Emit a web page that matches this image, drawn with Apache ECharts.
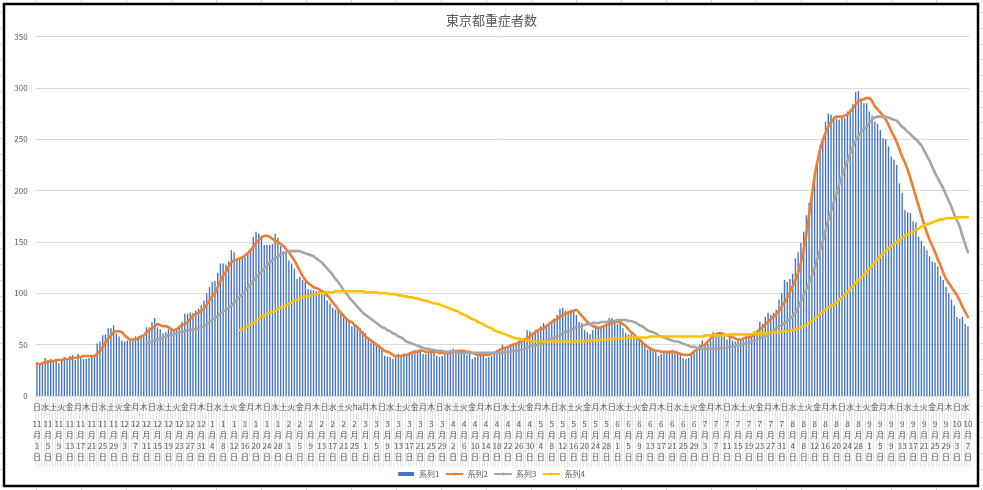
<!DOCTYPE html>
<html>
<head>
<meta charset="utf-8">
<script src="https://cdn.jsdelivr.net/npm/echarts@6/dist/echarts.min.js"></script>
<style>
html,body{margin:0;padding:0;background:#fff;}
#chart{width:983px;height:490px;}
</style>
</head>
<body>
<div id="chart"></div>
<script>
// ---- data (daily, 2020-11-01 .. 2021-10-07) ----
const startDate = '2020-11-01';
const dayCount = 341;
const yTicks = [0, 50, 100, 150, 200, 250, 300, 350];
const seriesNames = ['系列1', '系列2', '系列3', '系列4'];
const titleText = '東京都重症者数';

// 系列1: daily bars
const series1 = [
  // Nov
  33,32,33,37,35,36,35,35,32,36,38,37,39,40,35,41,38,36,36,37,38,39,51,53,59,60,66,66,69,61,
  // Dec
  58,54,53,54,55,54,58,58,58,58,67,67,72,76,67,65,61,62,65,65,65,66,68,72,80,80,81,81,83,85,88,
  // Jan
  93,100,106,111,112,120,129,129,128,131,142,140,134,134,135,135,140,143,155,160,158,156,147,147,147,148,158,154,146,141,140,
  // Feb
  132,129,124,114,116,113,111,104,103,103,102,102,101,99,93,90,86,84,83,81,80,77,74,68,69,67,66,63,
  // Mar
  61,55,52,51,51,50,46,39,38,38,36,39,41,40,40,40,43,44,45,45,46,41,41,42,42,42,39,38,39,41,42,
  // Apr
  45,46,45,44,42,41,40,41,36,38,39,40,42,37,38,39,42,45,46,50,46,48,51,51,51,54,54,56,64,63,
  // May
  62,64,65,68,71,68,71,73,75,79,85,86,83,83,84,83,79,72,71,64,62,60,64,69,68,68,68,71,76,76,72,
  // Jun
  70,72,66,61,60,60,59,58,56,54,50,45,45,44,43,39,41,42,42,42,45,43,42,42,37,36,37,42,45,44,
  // Jul
  50,54,50,51,54,62,61,61,62,60,55,58,54,53,56,55,55,59,60,60,63,64,72,70,77,81,79,81,84,94,100,
  // Aug
  113,111,114,119,134,140,149,160,176,188,197,218,227,244,250,267,275,274,272,270,269,272,271,277,279,284,296,297,290,285,285,
  // Sep
  277,273,267,265,259,251,250,243,233,230,225,207,198,181,179,178,170,169,155,151,146,142,136,131,130,126,117,113,106,100,
  // Oct
  94,88,77,75,77,70,68
];

// 系列2: orange line (from 11/1)
const series2 = [
  31,31,32,33,33,34,34,35,35,35,36,36,36,37,37,38,38,39,39,39,39,39,41,44,48,52,56,59,62,63,
  63,62,59,57,55,55,55,56,58,59,62,64,66,68,70,69,68,68,67,65,64,65,67,69,70,72,75,78,80,81,83,
  85,89,93,97,100,106,112,117,121,126,130,132,133,134,135,137,139,142,145,149,152,154,156,156,155,153,151,150,148,146,143,
  140,136,132,127,122,117,113,110,108,106,105,104,102,101,98,95,91,88,84,81,78,75,73,72,69,67,64,61,
  58,56,54,52,50,48,46,44,43,42,40,39,39,39,40,40,41,42,43,43,44,44,43,43,43,43,43,42,42,42,42,
  42,43,43,44,44,44,43,43,42,41,40,40,40,40,40,41,42,43,45,46,47,48,49,50,51,52,53,55,56,58,
  60,62,64,65,66,68,70,72,74,75,77,79,80,81,82,83,84,81,78,75,72,70,68,67,66,67,68,69,70,71,72,
  72,72,70,68,65,62,60,57,55,52,50,48,46,45,44,44,43,43,43,43,43,43,42,41,40,40,40,41,43,45,
  47,49,50,53,56,58,60,61,61,60,59,58,57,56,55,55,56,57,57,58,60,62,65,67,70,72,75,77,80,83,87,
  91,96,101,107,113,120,130,143,158,176,195,214,228,240,249,256,262,267,270,272,272,272,273,274,277,280,284,287,288,289,290,
  290,287,282,279,276,273,269,264,258,253,247,240,233,227,220,212,203,194,185,176,167,159,152,146,140,133,127,120,114,110,
  106,102,98,93,87,82,77
];

// 系列3: gray line (starts 12/11)
const series3Start = 40;
const series3 = [
  51,52,53,54,55,56,57,58,59,59,60,61,62,62,63,64,64,65,65,66,67,
  68,70,72,74,76,78,80,82,84,86,88,91,94,97,99,102,106,109,112,115,118,121,124,127,130,132,134,136,138,139,140,
  141,141,141,141,141,140,139,138,137,136,134,132,130,127,124,121,118,114,111,107,103,100,96,93,90,87,84,81,
  79,77,75,73,71,69,67,66,64,63,61,60,58,57,55,53,52,51,50,49,48,47,46,46,45,45,44,44,44,43,43,
  43,43,43,42,42,42,42,42,42,42,42,42,42,42,42,42,42,42,42,42,43,43,43,44,44,45,45,46,47,48,
  49,49,50,51,52,53,55,56,57,58,59,61,62,63,64,66,67,67,68,69,70,70,71,71,71,72,72,72,73,73,73,
  74,74,74,74,73,73,72,71,69,68,66,64,63,62,61,59,58,57,56,55,54,53,53,52,51,50,49,48,48,47,
  47,46,46,46,46,46,46,46,47,47,47,48,48,49,50,50,51,51,52,53,54,55,56,57,58,60,62,64,66,68,69,
  71,73,75,78,81,86,92,98,104,110,117,125,133,142,151,161,171,180,189,197,206,214,222,229,236,243,249,253,257,260,262,
  266,269,271,272,272,272,272,271,270,269,268,265,262,260,257,255,252,250,247,244,239,234,229,223,217,212,207,202,196,190,
  184,177,171,165,156,148,140
];

// 系列4: yellow line (starts 1/14)
const series4Start = 74;
const series4 = [
  64,65,66,68,70,71,73,75,77,78,80,81,82,83,85,86,87,88,
  90,91,93,94,95,96,97,97,98,99,99,100,100,100,101,101,101,102,102,102,102,102,102,102,102,102,102,102,
  101,101,101,101,101,100,100,100,100,99,99,99,98,98,97,97,96,96,95,95,94,93,93,92,91,90,90,89,88,87,86,
  85,84,83,82,80,79,78,76,75,74,72,71,70,68,67,66,64,63,62,61,60,59,58,57,56,56,55,55,54,54,
  53,53,53,53,53,53,53,53,53,53,53,53,53,53,53,53,53,53,53,53,54,54,54,54,54,55,55,55,55,55,56,
  56,56,56,56,57,57,57,57,57,57,57,57,58,58,58,58,58,58,58,58,58,58,58,58,58,58,58,58,58,58,
  58,58,59,59,59,59,59,59,59,59,59,60,60,60,60,60,60,60,60,60,61,61,61,61,61,61,62,62,62,62,63,
  63,63,64,64,65,66,67,68,69,71,73,75,77,80,82,84,86,88,89,91,94,96,99,101,104,107,110,113,115,118,121,
  124,127,130,133,136,139,141,144,146,148,150,152,154,156,157,159,160,162,163,165,166,167,168,169,170,171,172,172,173,173,
  173,173,174,174,174,174,174
];

// weekday row: one label cell in the reference reads "ha" instead of 金
const weekdayOverride = { 117: 'ha' };

// ---- build categories ----
const wdNames = ['日','月','火','水','木','金','土'];
const categories = [], weekdayLabels = [], dateLabels = [];
const t0 = Date.UTC(2020, 10, 1);
for (let i = 0; i < dayCount; i++) {
  const d = new Date(t0 + i * 86400000);
  const m = d.getUTCMonth() + 1, dd = d.getUTCDate();
  categories.push(d.toISOString().slice(0, 10));
  weekdayLabels.push(weekdayOverride[i] || wdNames[d.getUTCDay()]);
  dateLabels.push(m + '\n月\n' + dd + '\n日');
}
function pad(arr, start) { return new Array(start).fill(null).concat(arr); }

const FONT = '"Noto Sans CJK JP", "Noto Sans", sans-serif';
const chart = echarts.init(document.getElementById('chart'), null, { renderer: 'canvas' });

// decorative spreadsheet cell lines outside the chart border
const cellLines = [];
for (let x = 36; x < 983; x += 45) {
  cellLines.push({ type: 'line', shape: { x1: x + 0.5, y1: 0, x2: x + 0.5, y2: 3 }, style: { stroke: '#D4D4D4', lineWidth: 1 }, silent: true });
  cellLines.push({ type: 'line', shape: { x1: x + 0.5, y1: 488, x2: x + 0.5, y2: 490 }, style: { stroke: '#D4D4D4', lineWidth: 1 }, silent: true });
}
for (let y = 12; y < 490; y += 15.75) {
  cellLines.push({ type: 'line', shape: { x1: 0, y1: Math.round(y) + 0.5, x2: 2, y2: Math.round(y) + 0.5 }, style: { stroke: '#D4D4D4', lineWidth: 1 }, silent: true });
  cellLines.push({ type: 'line', shape: { x1: 980, y1: Math.round(y) + 0.5, x2: 983, y2: Math.round(y) + 0.5 }, style: { stroke: '#D4D4D4', lineWidth: 1 }, silent: true });
}

const lineCommon = { type: 'line', symbol: 'none', smooth: 0.3, connectNulls: false };

chart.setOption({
  animation: false,
  backgroundColor: '#ffffff',
  textStyle: { fontFamily: FONT },
  title: {
    text: titleText, left: 'center', top: 9,
    textStyle: { fontSize: 13, fontWeight: 'normal', color: '#595959', fontFamily: FONT }
  },
  legend: {
    data: seriesNames, left: 'center', top: 465,
    itemWidth: 16, itemHeight: 4, itemGap: 6,
    textStyle: { fontSize: 8, color: '#595959', fontFamily: FONT }
  },
  grid: { left: 35.6, right: 13.7, top: 36.5, bottom: 94 },
  xAxis: [
    {
      type: 'category', data: categories, boundaryGap: true,
      axisLine: { lineStyle: { color: '#D9D9D9' } },
      axisTick: { show: true, interval: 0, length: 71, lineStyle: { color: '#E6E6E6', width: 1 } },
      axisLabel: { interval: 2, formatter: (v, i) => weekdayLabels[i], fontSize: 8, color: '#595959', margin: 7, fontFamily: FONT },
      splitLine: { show: false }
    },
    {
      type: 'category', data: categories, boundaryGap: true, position: 'bottom',
      axisLine: { show: false }, axisTick: { show: false },
      axisLabel: { interval: 3, formatter: (v, i) => dateLabels[i], fontSize: 8, lineHeight: 11, color: '#595959', margin: 22, fontFamily: FONT },
      splitLine: { show: false }
    }
  ],
  yAxis: {
    type: 'value', min: yTicks[0], max: yTicks[yTicks.length - 1], interval: 50,
    axisLine: { show: false }, axisTick: { show: false },
    axisLabel: { fontSize: 8, color: '#595959', margin: 8, fontFamily: FONT },
    splitLine: { lineStyle: { color: '#D9D9D9', width: 1 } }
  },
  series: [
    { name: seriesNames[0], type: 'bar', data: series1, barCategoryGap: '50%', itemStyle: { color: '#4472C4' } },
    Object.assign({ name: seriesNames[1], data: series2, lineStyle: { color: '#ED7D31', width: 2.6, cap: 'round' }, itemStyle: { color: '#ED7D31' } }, lineCommon),
    Object.assign({ name: seriesNames[2], data: pad(series3, series3Start), lineStyle: { color: '#A5A5A5', width: 2.6, cap: 'round' }, itemStyle: { color: '#A5A5A5' } }, lineCommon),
    Object.assign({ name: seriesNames[3], data: pad(series4, series4Start), lineStyle: { color: '#FFC000', width: 2.6, cap: 'round' }, itemStyle: { color: '#FFC000' } }, lineCommon)
  ],
  graphic: cellLines.concat([
    { type: 'rect', shape: { x: 4, y: 4, width: 974, height: 482 }, style: { fill: 'none', stroke: '#000000', lineWidth: 2.5 }, silent: true, z: 100 }
  ])
});
</script>
</body>
</html>
